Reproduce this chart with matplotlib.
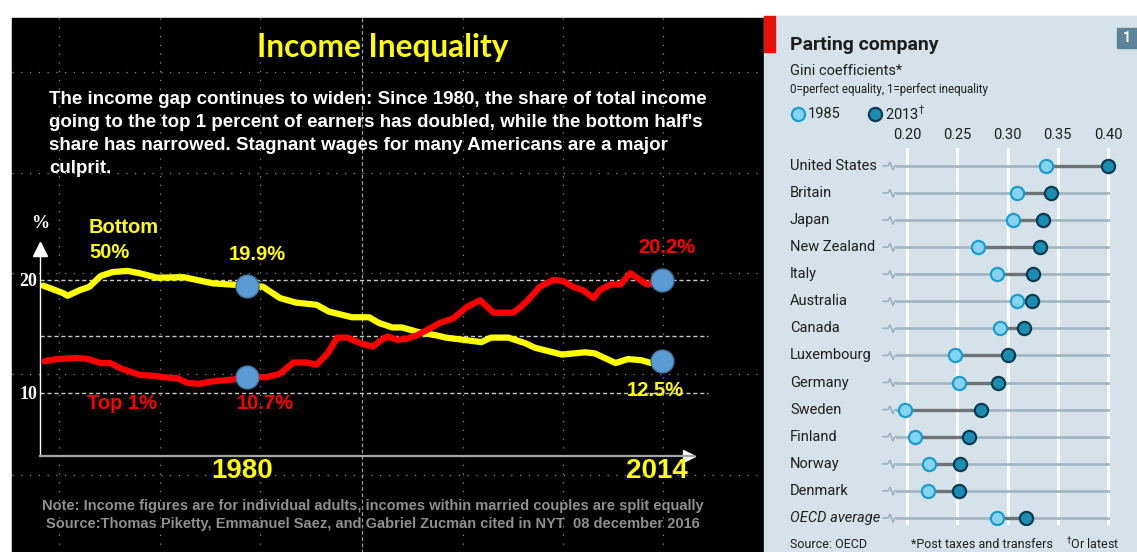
#!/usr/bin/env python3

import numpy as np
import matplotlib
matplotlib.use('Agg')
import matplotlib.pyplot as plt
from matplotlib import font_manager
from matplotlib.patches import Rectangle

# Left panel: US income shares (%)
years_bottom = [1963.3, 1964.9, 1965.3, 1966.3, 1967.1, 1968.0, 1969.0, 1970.2,
                1971.2, 1972.6, 1974.8, 1977.2, 1980.0, 1981.3, 1982.7, 1984.0,
                1985.7, 1986.7, 1988.6, 1990.0, 1990.8, 1991.9, 1992.7, 1994.0,
                1995.5, 1996.3, 1999.2, 2000.0, 2001.4, 2002.8, 2003.6, 2005.8,
                2007.7, 2008.5, 2010.2, 2011.2, 2012.3, 2013.1, 2014.0]
bottom50 = [19.5, 18.85, 18.6, 19.1, 19.4, 20.35, 20.7, 20.8, 20.6, 20.2, 20.25,
            19.7, 19.5, 19.4, 18.4, 18.0, 17.8, 17.2, 16.7, 16.7, 16.2, 15.8,
            15.8, 15.4, 15.1, 14.9, 14.5, 14.9, 14.9, 14.4, 14.0, 13.4, 13.6,
            13.5, 12.65, 13.0, 12.9, 12.65, 12.8]

years_top = [1963.4, 1964.4, 1966.1, 1967.0, 1968.0, 1968.8, 1969.6, 1971.2,
             1972.6, 1973.1, 1974.3, 1975.1, 1976.1, 1977.0, 1978.9, 1980.0,
             1981.6, 1982.7, 1983.8, 1984.9, 1985.7, 1986.6, 1987.4, 1988.2,
             1989.3, 1990.3, 1990.9, 1991.5, 1992.3, 1993.1, 1993.9, 1994.8,
             1995.8, 1996.9, 1998.0, 1999.1, 2000.2, 2001.8, 2002.4, 2003.0,
             2004.0, 2005.1, 2005.9, 2006.7, 2007.5, 2008.4, 2008.9, 2009.8,
             2010.6, 2011.4, 2012.2, 2012.8, 2014.0]
top1 = [12.8, 13.0, 13.1, 13.0, 12.65, 12.65, 12.2, 11.6, 11.5, 11.4, 11.3, 10.9,
        10.8, 11.0, 11.2, 11.4, 11.4, 11.7, 12.7, 12.7, 12.5, 13.5, 14.9, 14.9,
        14.4, 14.1, 14.6, 15.0, 14.7, 14.8, 15.1, 15.6, 16.2, 16.6, 17.6, 18.2,
        17.1, 17.1, 17.6, 18.2, 19.4, 20.0, 19.9, 19.4, 19.1, 18.4, 19.1, 19.6,
        19.6, 20.6, 20.0, 19.6, 20.0]

mark_years = [1980, 2014]
y_ticks = [10, 20]
ref_lines = [10, 15, 20]

paragraph = [
    "The income gap continues to widen: Since 1980, the share of total income",
    "going to the top 1 percent of earners has doubled, while the bottom half's",
    "share has narrowed. Stagnant wages for many Americans are a major",
    "culprit.",
]

# Right panel: Gini coefficients
countries = ['United States', 'Britain', 'Japan', 'New Zealand', 'Italy',
             'Australia', 'Canada', 'Luxembourg', 'Germany', 'Sweden',
             'Finland', 'Norway', 'Denmark', 'OECD average']
gini_1985 = [0.338, 0.309, 0.305, 0.271, 0.290, 0.309, 0.293, 0.248, 0.252,
             0.198, 0.208, 0.222, 0.221, 0.290]
gini_2013 = [0.400, 0.343, 0.335, 0.332, 0.325, 0.324, 0.316, 0.300, 0.291,
             0.274, 0.262, 0.253, 0.252, 0.318]
gini_ticks = [0.20, 0.25, 0.30, 0.35, 0.40]

W, H = 1137, 552


def pick(*names):
    avail = {f.name for f in font_manager.fontManager.ttflist}
    for n in names:
        if n in avail:
            return n
    return 'DejaVu Sans'


ARIAL = pick('Liberation Sans', 'Arimo')
NARROW = pick('Liberation Sans Narrow', 'Liberation Sans')
SERIF = pick('Liberation Serif', 'DejaVu Serif')
TITLE = pick('Lato', 'Open Sans')
ECO = pick('Roboto', 'Noto Sans')
NOTE_SIZE = 11.5 if NARROW == 'Liberation Sans Narrow' else 10.5


def box(l, t, r, b):
    return [l / W, 1 - b / H, (r - l) / W, (b - t) / H]


def main():
    fig = plt.figure(figsize=(W / 100, H / 100), dpi=100)
    fig.patch.set_facecolor('white')

    bg = fig.add_axes([0, 0, 1, 1])
    bg.set_xlim(0, W)
    bg.set_ylim(H, 0)
    bg.axis('off')

    # panels
    bg.add_patch(Rectangle((12, 18), 752, 540, color='black', zorder=0))
    bg.add_patch(Rectangle((764, 16), 380, 540, color='#d6e2ea', zorder=0))
    bg.add_patch(Rectangle((764, 16), 11, 36, color='#e3120b', zorder=1))
    bg.add_patch(Rectangle((1117, 28), 22, 20, color='#5d8398', zorder=1))
    bg.text(1127, 38, '1', color='white', fontsize=10, fontweight='bold',
            family=ECO, ha='center', va='center')

    # slide grid
    for x in [59, 160, 260, 463, 563, 663]:
        bg.plot([x, x], [18, 552], color='#8a8a8a', lw=0.9, ls=(0, (1, 6)))
    bg.plot([362, 362], [18, 552], color='#9a9a9a', lw=0.9, ls=(0, (3, 2)))
    for y in [72, 173, 273, 374, 475]:
        bg.plot([12, 764], [y, y], color='#8a8a8a', lw=0.9, ls=(0, (1, 6)))

    bg.text(383, 47, 'Income Inequality', color='#ffff00', fontsize=22.8,
            fontweight='bold', family=TITLE, ha='center', va='center')
    for i, line in enumerate(paragraph):
        bg.text(49, 100 + i * 22.7, line, color='white', fontsize=13.5,
                fontweight='bold', family=ARIAL, va='center')

    bg.text(373, 506, 'Note: Income figures are for individual adults, incomes '
            'within married couples are split equally', color='#8f8f8f',
            fontsize=NOTE_SIZE, fontweight='bold', family=NARROW, ha='center',
            va='center')
    bg.text(373, 524, 'Source:Thomas Piketty, Emmanuel Saez, and Gabriel Zucman '
            'cited in NYT  08 december 2016', color='#8f8f8f',
            fontsize=NOTE_SIZE, fontweight='bold', family=NARROW, ha='center',
            va='center')

    # line chart
    ax = fig.add_axes(box(40, 243, 694, 456))
    ax.patch.set_alpha(0)
    ax.set_xlim(1963.04, 2016.62)
    ax.set_ylim(4.425, 23.27)
    for s in ['top', 'right']:
        ax.spines[s].set_visible(False)
    ax.spines['left'].set_color('white')
    ax.spines['left'].set_linewidth(1)
    ax.spines['bottom'].set_color('#a6a6a6')
    ax.spines['bottom'].set_linewidth(1.6)
    ax.set_xticks([])
    ax.set_yticks(y_ticks)
    ax.set_yticklabels([str(v) for v in y_ticks], color='white',
                       fontsize=13, fontweight='bold', family=SERIF)
    ax.tick_params(axis='y', length=0, pad=2)
    ax.plot(0, 0.972, marker='^', ms=9.5, color='white',
            transform=ax.transAxes, clip_on=False)
    ax.plot(0.992, 0, marker='>', ms=9, color='white',
            transform=ax.transAxes, clip_on=False)
    bg.text(40, 224, '%', color='white', fontsize=13, fontweight='bold',
            family=SERIF, ha='center', va='center')

    for v in ref_lines:
        ax.axhline(v, xmin=0, xmax=(708 - 40) / 654, color='#c8c8c8', lw=1,
                   ls=(0, (3, 2)), clip_on=False)

    ax.plot(years_bottom, bottom50, color='#ffff00', lw=4.5,
            solid_joinstyle='round', solid_capstyle='round')
    ax.plot(years_top, top1, color='#ff0000', lw=4.5,
            solid_joinstyle='round', solid_capstyle='round')

    mb = np.interp(mark_years, years_bottom, bottom50)
    mt = np.interp(mark_years, years_top, top1)
    for yv in [mb, mt]:
        ax.plot(mark_years, yv, 'o', ms=16.5, mfc='#5b9bd5', mec='#41719c',
                mew=1, zorder=5)

    lab = dict(fontsize=14.5, fontweight='bold', family=ARIAL,
               textcoords='offset pixels', va='center')
    ax.annotate('19.9%', (1980, mb[0]), xytext=(-18, 31), color='#ffff00', **lab)
    ax.annotate('12.5%', (2014, mb[1]), xytext=(-35, -29), color='#ffff00', **lab)
    ax.annotate('20.2%', (2014, mt[1]), xytext=(-24, 32), color='#ff0000', **lab)
    ax.annotate('10.7%', (1980, mt[0]), xytext=(-10, -26), color='#ff0000', **lab)
    ax.annotate('Top 1%', (1980, mt[0]), xytext=(-160, -26), color='#ff0000', **lab)
    ax.annotate('Bottom', (1980, mb[0]), xytext=(-158, 58), color='#ffff00', **lab)
    ax.annotate('50%', (1980, mb[0]), xytext=(-158, 33), color='#ffff00', **lab)

    for yr in mark_years:
        ax.annotate(str(yr), (yr, 0), xycoords=('data', 'axes fraction'),
                    xytext=(-5, -15), textcoords='offset pixels',
                    ha='center', va='center', color='#ffff00', fontsize=20,
                    fontweight='bold', family=ARIAL)

    # dot plot
    c_text = '#1e1e1e'
    bg.text(790, 45, 'Parting company', color=c_text, fontsize=14,
            fontweight='bold', family=ECO, va='center')
    bg.text(790, 71, 'Gini coefficients*', color=c_text, fontsize=10.5,
            family=ECO, va='center')
    bg.text(790, 89, '0=perfect equality, 1=perfect inequality', color=c_text,
            fontsize=8.3, family=ECO, va='center')
    bg.plot(798, 114, 'o', ms=9.5, mfc='#84d3f0', mec='#1b9ccc', mew=1.6)
    bg.text(808, 114, '1985', color=c_text, fontsize=10.5, family=ECO,
            va='center')
    bg.plot(875, 114, 'o', ms=9.5, mfc='#1b8db3', mec='#093b50', mew=1.6)
    bg.text(885, 114, '2013$^{\\dagger}$', color=c_text, fontsize=10.5,
            family=ECO, va='center')

    bg.text(790, 544, 'Source: OECD', color=c_text, fontsize=9, family=ECO,
            va='center')
    bg.text(911, 544, '*Post taxes and transfers', color=c_text, fontsize=9,
            family=ECO, va='center')
    bg.text(1066, 544, '$^{\\dagger}$Or latest', color=c_text, fontsize=9,
            family=ECO, va='center')

    dx = fig.add_axes(box(790, 148, 1120, 525))
    dx.patch.set_alpha(0)
    lo = 0.20 - (907 - 790) / 1005
    hi = 0.40 + (1120 - 1108) / 1005
    dx.set_xlim(lo, hi)
    dx.set_ylim(13.26, -0.66)
    for s in dx.spines.values():
        s.set_visible(False)
    dx.set_xticks(gini_ticks)
    dx.set_xticklabels(['%.2f' % t for t in gini_ticks], fontsize=10.5,
                       family=ECO, color=c_text)
    dx.xaxis.tick_top()
    dx.tick_params(axis='x', length=0, pad=4)
    dx.set_yticks([])
    dx.grid(axis='x', color='white', lw=2)
    dx.set_axisbelow(True)

    px = 1 / 1005
    py = 1 / 27.08
    start = 0.20 - (907 - 883) * px
    zig_x = [start, 0.20 - 19 * px, 0.20 - 17 * px, 0.20 - 14 * px,
             0.20 - 12 * px, 0.20 - 10 * px]
    zig_dy = [0, 0, -3.5 * py, 4 * py, 0, 0]
    for i, name in enumerate(countries):
        dx.plot(zig_x, [i + d for d in zig_dy], color='#9db2bf', lw=1.2,
                zorder=2)
        dx.plot([0.20 - 10 * px, 0.40], [i, i], color='#a3b7c3', lw=2,
                zorder=2)
        dx.plot([gini_1985[i], gini_2013[i]], [i, i], color='#6d7276', lw=2.4,
                zorder=3)
        dx.text(0, i, name, transform=dx.get_yaxis_transform(), ha='left',
                va='center', fontsize=10.5, family=ECO, color=c_text,
                style='italic' if name == 'OECD average' else 'normal')
    dx.plot(gini_1985, range(len(countries)), 'o', ms=9.5, mfc='#84d3f0',
            mec='#1b9ccc', mew=1.6, zorder=4)
    dx.plot(gini_2013, range(len(countries)), 'o', ms=9.5, mfc='#1b8db3',
            mec='#093b50', mew=1.6, zorder=4)

    fig.savefig('out.png', dpi=100)


if __name__ == '__main__':
    main()
